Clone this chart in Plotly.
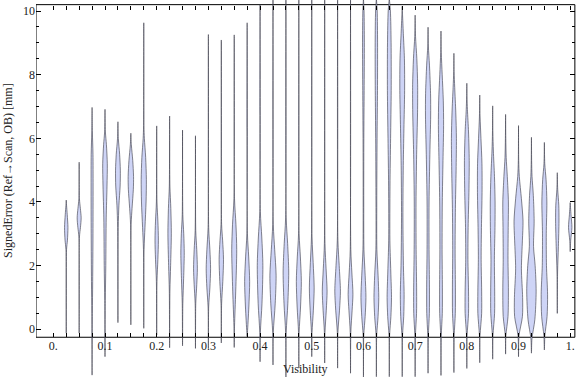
import plotly.graph_objects as go

# ---------------- data ----------------
visibility = [0.025, 0.05, 0.075, 0.1, 0.125, 0.15, 0.175, 0.2, 0.225, 0.25,
              0.275, 0.3, 0.325, 0.35, 0.375, 0.4, 0.425, 0.45, 0.475, 0.5,
              0.525, 0.55, 0.575, 0.6, 0.625, 0.65, 0.675, 0.7, 0.725, 0.75,
              0.775, 0.8, 0.825, 0.85, 0.875, 0.9, 0.925, 0.95, 0.975, 1.0]

err_min = [-0.12, -0.12, -1.44, -0.86, 0.21, 0.14, 0.03, -0.18, -0.58, -0.52,
           -0.60, -0.60, -0.43, -0.57, -0.23, -1.02, -1.12, -1.50, -1.22, -0.86,
           -1.06, -1.22, -1.38, -1.50, -1.49, -1.49, -1.49, -1.49, -1.38, -1.45,
           -1.36, -1.23, -1.05, -0.94, -0.78, -0.86, -0.75, -0.65, 0.50, 2.44]

err_max = [4.06, 5.25, 6.97, 6.91, 6.52, 6.16, 9.63, 6.39, 6.70, 6.26,
           6.08, 9.26, 9.09, 9.25, 9.63, 10.2, 10.4, 10.4, 10.4, 10.4,
           10.4, 10.4, 10.4, 10.4, 10.4, 10.4, 10.15, 9.87, 9.49, 9.37,
           8.67, 7.73, 7.36, 7.02, 6.75, 6.40, 6.03, 5.87, 4.92, 3.98]

# density profile of each violin: (error value, relative density)
density = [
    [(2.5, 0.3), (2.8, 1.2), (3.2, 1.7), (3.6, 1.0), (3.9, 0.3)],
    [(2.9, 0.3), (3.2, 1.3), (3.5, 2.0), (3.8, 1.2), (4.1, 0.3)],
    [(0.5, 0.3), (1.5, 0.6), (3.0, 0.9), (4.5, 1.0), (5.5, 0.9), (6.2, 0.3)],
    [(0.9, 0.3), (2.0, 0.8), (3.5, 1.2), (4.5, 2.0), (5.2, 2.3), (5.8, 1.4), (6.2, 0.4)],
    [(3.2, 0.3), (3.9, 1.0), (4.5, 2.2), (5.0, 2.4), (5.5, 1.7), (6.0, 0.4)],
    [(3.3, 0.3), (3.8, 1.2), (4.4, 2.5), (4.8, 2.7), (5.3, 1.9), (5.8, 0.5)],
    [(2.5, 0.3), (3.2, 1.2), (4.0, 2.3), (4.7, 2.6), (5.4, 1.9), (6.0, 0.6), (6.4, 0.2)],
    [(1.5, 0.3), (2.2, 1.2), (2.8, 1.7), (3.4, 1.2), (4.0, 0.3)],
    [(1.2, 0.3), (2.0, 1.0), (3.0, 1.7), (3.8, 1.2), (4.5, 0.3)],
    [(0.8, 0.3), (1.6, 1.1), (2.4, 1.7), (3.0, 1.2), (3.6, 0.3)],
    [(0.8, 0.3), (1.4, 1.3), (1.9, 1.9), (2.5, 1.3), (3.1, 0.3)],
    [(0.7, 0.3), (1.3, 1.5), (1.9, 2.2), (2.5, 1.5), (3.2, 0.3)],
    [(0.8, 0.3), (1.5, 1.5), (2.2, 2.2), (2.8, 1.3), (3.3, 0.3)],
    [(0.1, 0.3), (1.2, 1.5), (2.5, 2.5), (3.3, 1.7), (4.1, 0.3)],
    [(-0.1, 0.3), (0.7, 1.7), (1.5, 2.5), (2.3, 1.5), (3.0, 0.3)],
    [(-0.1, 0.3), (0.8, 1.9), (2.0, 2.8), (2.9, 1.7), (3.7, 0.3)],
    [(-0.1, 0.3), (0.8, 2.2), (1.7, 3.1), (2.5, 1.7), (3.3, 0.3)],
    [(-0.1, 0.3), (0.8, 1.9), (1.8, 2.8), (2.7, 1.7), (3.5, 0.3)],
    [(-0.1, 0.3), (0.7, 1.7), (1.5, 2.5), (2.3, 1.5), (3.0, 0.3)],
    [(-0.1, 0.3), (0.6, 1.6), (1.3, 2.4), (2.1, 1.4), (2.9, 0.3)],
    [(-0.1, 0.3), (0.6, 1.6), (1.2, 2.4), (1.9, 1.4), (2.7, 0.3)],
    [(-0.1, 0.3), (0.6, 1.9), (1.2, 2.8), (2.0, 1.6), (2.8, 0.3)],
    [(-0.1, 0.3), (0.6, 1.6), (1.1, 2.4), (1.8, 1.3), (2.5, 0.3)],
    [(-0.2, 0.3), (0.4, 1.7), (1.0, 2.5), (1.7, 1.7), (2.5, 0.5), (4.0, 0.3), (6.0, 0.4), (7.5, 0.7), (9.0, 0.9), (10.0, 0.6)],
    [(-0.2, 0.3), (0.4, 1.7), (1.0, 2.4), (1.7, 1.7), (2.5, 0.5), (4.0, 0.4), (6.0, 0.7), (7.5, 1.1), (9.0, 1.2), (10.0, 0.8)],
    [(-0.2, 0.3), (0.4, 1.6), (1.0, 2.2), (1.8, 1.5), (2.8, 0.6), (4.5, 0.7), (6.0, 1.3), (7.5, 1.9), (9.0, 1.8), (10.0, 1.1)],
    [(-0.2, 0.3), (0.4, 1.5), (1.1, 1.9), (2.0, 1.2), (3.5, 0.7), (5.0, 1.0), (6.3, 1.7), (7.5, 2.4), (8.5, 2.2), (9.3, 1.1), (9.9, 0.3)],
    [(-0.2, 0.3), (0.5, 1.4), (1.2, 1.5), (2.5, 1.0), (4.0, 0.9), (5.5, 1.5), (6.8, 2.4), (7.7, 2.5), (8.5, 1.7), (9.2, 0.4)],
    [(-0.2, 0.3), (0.5, 1.3), (1.3, 1.4), (2.5, 1.0), (4.0, 1.0), (5.5, 1.8), (6.7, 2.6), (7.4, 2.5), (8.3, 1.4), (8.9, 0.3)],
    [(-0.2, 0.3), (0.5, 1.3), (1.3, 1.4), (2.5, 1.1), (4.0, 1.3), (5.3, 2.0), (6.4, 2.6), (7.2, 2.3), (8.0, 1.2), (8.7, 0.3)],
    [(-0.2, 0.3), (0.5, 1.4), (1.3, 1.5), (2.5, 1.2), (3.8, 1.5), (5.0, 2.2), (6.0, 2.5), (6.8, 1.9), (7.6, 0.8), (8.1, 0.2)],
    [(-0.2, 0.3), (0.5, 1.7), (1.2, 1.7), (2.2, 1.1), (3.2, 1.3), (4.3, 2.1), (5.3, 2.4), (6.2, 1.7), (6.9, 0.6), (7.3, 0.2)],
    [(-0.2, 0.3), (0.5, 1.9), (1.2, 1.9), (2.2, 1.4), (3.2, 1.7), (4.3, 2.3), (5.2, 2.2), (6.0, 1.2), (6.7, 0.3)],
    [(-0.2, 0.3), (0.5, 1.9), (1.2, 2.0), (2.2, 1.7), (3.2, 2.3), (4.0, 2.4), (4.8, 1.8), (5.6, 0.7), (6.2, 0.2)],
    [(-0.2, 0.3), (0.4, 2.4), (1.2, 2.8), (2.2, 2.4), (3.2, 2.6), (4.0, 2.8), (4.8, 1.7), (5.4, 0.6), (6.0, 0.2)],
    [(-0.2, 0.5), (0.4, 3.9), (1.0, 4.1), (1.9, 2.9), (2.8, 3.9), (3.4, 4.5), (4.1, 2.9), (4.8, 0.8), (5.3, 0.2)],
    [(-0.3, 0.5), (0.3, 3.4), (1.2, 4.7), (2.0, 3.7), (2.6, 2.1), (3.4, 2.7), (4.2, 1.9), (4.8, 0.6), (5.3, 0.2)],
    [(-0.2, 0.5), (0.4, 2.7), (1.1, 3.2), (2.0, 2.1), (3.0, 1.9), (4.0, 2.5), (4.7, 1.7), (5.2, 0.4)],
    [(1.8, 0.3), (2.6, 1.1), (3.4, 1.7), (3.9, 1.5), (4.4, 0.4)],
    [(2.8, 0.5), (3.2, 1.7), (3.6, 0.8)],
]

x_ticks = [0.0, 0.1, 0.2, 0.3, 0.4, 0.5, 0.6, 0.7, 0.8, 0.9, 1.0]
x_ticktext = ["0.", "0.1", "0.2", "0.3", "0.4", "0.5", "0.6", "0.7", "0.8", "0.9", "1."]
y_ticks = [0, 2, 4, 6, 8, 10]
y_ticktext = ["0", "2", "4", "6", "8", "10"]
x_minor = [0.025, 0.05, 0.075, 0.125, 0.15, 0.175, 0.225, 0.25, 0.275, 0.325, 0.35, 0.375,
           0.425, 0.45, 0.475, 0.525, 0.55, 0.575, 0.625, 0.65, 0.675, 0.725, 0.75, 0.775,
           0.825, 0.85, 0.875, 0.925, 0.95, 0.975]
y_minor = [0.5, 1, 1.5, 2.5, 3, 3.5, 4.5, 5, 5.5, 6.5, 7, 7.5, 8.5, 9, 9.5]

# ---------------- styling ----------------
W, H = 576, 377
XR = [-0.0335, 1.0112]
YR = [-1.499, 10.346]
FRAME_X = [-0.0335, 1.009]
FRAME_Y = [-0.25, 10.2]
WIDTH_SCALE = 1.0 / 517.0   # x-units per density unit
FILL = "rgba(203, 210, 245, 0.95)"
EDGE = "rgba(60, 60, 72, 0.62)"
FONT = "Liberation Serif"

fig = go.Figure()

for pos, lo, hi, prof in zip(visibility, err_min, err_max, density):
    ys = [lo] + [p[0] for p in prof] + [hi]
    ds = [0.0] + [p[1] for p in prof] + [0.0]
    xr = [pos + d * WIDTH_SCALE for d in ds]
    xl = [pos - d * WIDTH_SCALE for d in ds]
    fig.add_trace(go.Scatter(
        x=xr + xl[::-1], y=ys + ys[::-1],
        mode="lines", fill="toself", fillcolor=FILL,
        line=dict(color=EDGE, width=1, shape="spline", smoothing=0.8),
        hoverinfo="skip", showlegend=False))

# invisible trace to activate mirrored frame axes
fig.add_trace(go.Scatter(x=[None], y=[None], xaxis="x2", yaxis="y2", showlegend=False))

xb_pos = 1 - 337.3 / H
xt_pos = 1 - 4.7 / H

tickfont = dict(family=FONT, size=12, color="#222")
fig.update_layout(
    width=W, height=H,
    margin=dict(l=36, r=0, t=0, b=0),
    paper_bgcolor="white", plot_bgcolor="white",
    showlegend=False,
    xaxis=dict(range=XR, anchor="free", position=xb_pos, showgrid=False, zeroline=False,
               showline=False, ticks="inside", ticklen=4, tickwidth=1, tickcolor="black",
               tickmode="array", tickvals=x_ticks, ticktext=x_ticktext, tickfont=tickfont,
               minor=dict(tickmode="array", tickvals=x_minor, ticks="inside", ticklen=4,
                          tickcolor="black", showgrid=False)),
    xaxis2=dict(range=XR, overlaying="x", anchor="free", position=xt_pos, side="top",
                showgrid=False, zeroline=False, showline=False, ticks="inside", ticklen=4,
                tickcolor="black", tickmode="array", tickvals=x_ticks, showticklabels=False,
                minor=dict(tickmode="array", tickvals=x_minor, ticks="inside", ticklen=4,
                           tickcolor="black", showgrid=False)),
    yaxis=dict(range=YR, domain=[0, 1], showgrid=False, zeroline=False, showline=False,
               ticks="inside", ticklen=5, tickcolor="black", tickmode="array",
               tickvals=y_ticks, ticktext=y_ticktext, tickfont=tickfont,
               minor=dict(tickmode="array", tickvals=y_minor, ticks="inside", ticklen=3,
                          tickcolor="black", showgrid=False)),
    yaxis2=dict(range=YR, overlaying="y", anchor="free", position=0.998, side="right",
                showgrid=False, zeroline=False, showline=False, ticks="inside", ticklen=5,
                tickcolor="black", tickmode="array", tickvals=y_ticks, showticklabels=False,
                minor=dict(tickmode="array", tickvals=y_minor, ticks="inside", ticklen=3,
                           tickcolor="black", showgrid=False)),
)

fig.add_shape(type="rect", xref="x", yref="y",
              x0=FRAME_X[0], x1=FRAME_X[1], y0=FRAME_Y[0], y1=FRAME_Y[1],
              line=dict(color="black", width=1), fillcolor="rgba(0,0,0,0)", layer="below")

fig.add_annotation(text="Visibility", xref="x", yref="paper",
                   x=(FRAME_X[0] + FRAME_X[1]) / 2, y=1 - 369 / H,
                   showarrow=False, xanchor="center", yanchor="middle",
                   font=dict(family=FONT, size=12, color="#222"))
fig.add_annotation(text="SignedError (Ref→Scan, OB) [mm]", xref="paper", yref="y",
                   x=(8 - 36) / 540, y=(FRAME_Y[0] + FRAME_Y[1]) / 2, textangle=-90,
                   showarrow=False, xanchor="center", yanchor="middle",
                   font=dict(family=FONT, size=12, color="#222"))

fig.write_html("out.html")
